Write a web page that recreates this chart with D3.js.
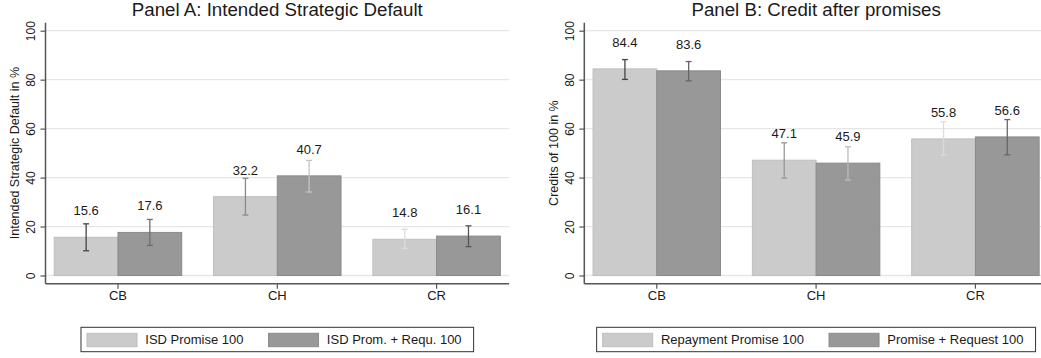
<!DOCTYPE html>
<html>
<head>
<meta charset="utf-8">
<script src="https://cdn.jsdelivr.net/npm/d3@7/dist/d3.min.js"></script>
<style>
    body { margin: 0; background: #fff; }
    text { font-family: Arial, "Liberation Sans", sans-serif; fill: #1a1a1a; }
</style>
</head>
<body>
<div id="chart"></div>
<script>
// data
var categories = ["CB", "CH", "CR"];
var yTicks = [0, 20, 40, 60, 80, 100];

var isdPromise   = [15.6, 32.2, 14.8];
var isdPromiseLo = [10.1, 24.7, 11.1];
var isdPromiseHi = [21.1, 39.7, 18.9];
var isdRequest   = [17.6, 40.7, 16.1];
var isdRequestLo = [12.3, 34.1, 11.8];
var isdRequestHi = [22.9, 47.0, 20.3];

var creditPromise   = [84.4, 47.1, 55.8];
var creditPromiseLo = [80.1, 39.8, 49.2];
var creditPromiseHi = [88.2, 54.2, 62.8];
var creditRequest   = [83.6, 45.9, 56.6];
var creditRequestLo = [79.5, 39.0, 49.3];
var creditRequestHi = [87.4, 52.6, 63.7];

var width = 1041, height = 358;

var svg = d3.select("#chart")
    .append("svg")
    .attr("width", width)
    .attr("height", height);

// shared vertical scale
var y = d3.scaleLinear()
    .domain([0, 100])
    .range([275.5, 30.7]);

var plotTop = 22.7, plotBottom = 283.7;
var fills = ["#cbcbcb", "#989898"];
var strokes = ["#bebebe", "#8a8a8a"];

function drawPanel(p) {
    var g = svg.append("g");

    var x = d3.scaleBand()
        .domain(categories)
        .range([p.left, p.left + 463.6])
        .paddingInner(0.2)
        .paddingOuter(0.055);

    var xSub = d3.scaleBand()
        .domain([0, 1])
        .range([0, x.bandwidth()]);

    var cx = (p.left + p.left + 463.6) / 2;

    // gridlines
    g.append("g")
        .selectAll("line")
        .data(yTicks)
        .enter().append("line")
        .attr("x1", p.left)
        .attr("x2", p.left + 463.6)
        .attr("y1", function (d) { return y(d); })
        .attr("y2", function (d) { return y(d); })
        .attr("stroke", "#e6e6e6")
        .attr("stroke-width", 1.3);

    // title
    g.append("text")
        .attr("x", cx)
        .attr("y", 15.5)
        .attr("text-anchor", "middle")
        .attr("font-size", "18.7px")
        .text(p.title);

    // bars
    var rows = [];
    p.series.forEach(function (s, si) {
        s.values.forEach(function (v, i) {
            rows.push({cat: categories[i], s: si, v: v, lo: s.lo[i], hi: s.hi[i], cap: p.capColors[si][i]});
        });
    });

    g.append("g")
        .selectAll("rect")
        .data(rows)
        .enter().append("rect")
        .attr("x", function (d) { return x(d.cat) + xSub(d.s); })
        .attr("y", function (d) { return y(d.v); })
        .attr("width", xSub.bandwidth())
        .attr("height", function (d) { return y(0) - y(d.v); })
        .attr("fill", function (d) { return fills[d.s]; })
        .attr("stroke", function (d) { return strokes[d.s]; })
        .attr("stroke-width", 1);

    // error bars
    var eb = g.append("g")
        .selectAll("g")
        .data(rows)
        .enter().append("g")
        .attr("stroke", function (d) { return d.cap; })
        .attr("stroke-width", 1.3)
        .attr("transform", function (d) {
            return "translate(" + (x(d.cat) + xSub(d.s) + xSub.bandwidth() / 2) + ",0)";
        });
    eb.append("line")
        .attr("y1", function (d) { return y(d.lo); })
        .attr("y2", function (d) { return y(d.hi); });
    eb.append("line")
        .attr("x1", -3).attr("x2", 3)
        .attr("y1", function (d) { return y(d.lo); })
        .attr("y2", function (d) { return y(d.lo); });
    eb.append("line")
        .attr("x1", -3).attr("x2", 3)
        .attr("y1", function (d) { return y(d.hi); })
        .attr("y2", function (d) { return y(d.hi); });

    // value labels
    g.append("g")
        .selectAll("text")
        .data(rows)
        .enter().append("text")
        .attr("x", function (d) { return x(d.cat) + xSub(d.s) + xSub.bandwidth() / 2; })
        .attr("y", function (d) { return y(d.v) - 22; })
        .attr("text-anchor", "middle")
        .attr("font-size", "13px")
        .text(function (d) { return d3.format(".1f")(d.v); });

    // y axis
    var yAxis = g.append("g")
        .attr("transform", "translate(" + p.left + ",0)")
        .call(d3.axisLeft(y).tickValues(yTicks).tickSize(5).tickSizeOuter(0));
    yAxis.select(".domain").remove();
    yAxis.selectAll(".tick line").attr("stroke", "#555").attr("stroke-width", 1.2);
    yAxis.selectAll(".tick text")
        .attr("x", null).attr("dy", null)
        .attr("transform", "translate(-10.5,0) rotate(-90)")
        .attr("text-anchor", "middle")
        .attr("font-size", "12px")
        .attr("font-family", null)
        .attr("fill", "#1a1a1a");

    g.append("line")
        .attr("x1", p.left).attr("x2", p.left)
        .attr("y1", plotTop).attr("y2", plotBottom)
        .attr("stroke", "#555").attr("stroke-width", 1.5);

    g.append("text")
        .attr("transform", "translate(" + (p.left - 26.5) + "," + ((y(0) + y(100)) / 2) + ") rotate(-90)")
        .attr("text-anchor", "middle")
        .attr("font-size", "12.5px")
        .text(p.yTitle);

    // x axis
    var xAxis = g.append("g")
        .attr("transform", "translate(0," + plotBottom + ")")
        .call(d3.axisBottom(x).tickSize(5).tickSizeOuter(0));
    xAxis.select(".domain").remove();
    xAxis.selectAll(".tick line").attr("stroke", "#555").attr("stroke-width", 1.2);
    xAxis.selectAll(".tick text")
        .attr("y", 16.8).attr("dy", null)
        .attr("font-size", "13px")
        .attr("font-family", null)
        .attr("fill", "#1a1a1a");
    g.append("line")
        .attr("x1", p.left).attr("x2", p.left + 463.6)
        .attr("y1", plotBottom).attr("y2", plotBottom)
        .attr("stroke", "#555").attr("stroke-width", 1.5);

    // legend
    var lg = g.append("g");
    var box = lg.append("rect")
        .attr("fill", "#fff")
        .attr("stroke", "#333")
        .attr("stroke-width", 1);
    var pos = 6;
    p.legend.forEach(function (label, i) {
        lg.append("rect")
            .attr("x", pos).attr("y", 6)
            .attr("width", 50).attr("height", 13.4)
            .attr("fill", fills[i])
            .attr("stroke", strokes[i]);
        var t = lg.append("text")
            .attr("x", pos + 58.3)
            .attr("y", 17)
            .attr("font-size", "13px")
            .text(label);
        pos += 58.3 + t.node().getComputedTextLength() + (i === 0 ? 25 : 12);
    });
    box.attr("width", pos).attr("height", 24.4);
    lg.attr("transform", "translate(" + (cx - pos / 2) + ",327.3)");
}

drawPanel({
    left: 45.5,
    title: "Panel A: Intended Strategic Default",
    yTitle: "Intended Strategic Default in %",
    series: [
        {values: isdPromise, lo: isdPromiseLo, hi: isdPromiseHi},
        {values: isdRequest, lo: isdRequestLo, hi: isdRequestHi}
    ],
    capColors: [["#444", "#8a8a8a", "#dcdcdc"], ["#6e6e6e", "#c4c4c4", "#555"]],
    legend: ["ISD Promise 100", "ISD Prom. + Requ. 100"]
});

drawPanel({
    left: 584.3,
    title: "Panel B: Credit after promises",
    yTitle: "Credits of 100 in %",
    series: [
        {values: creditPromise, lo: creditPromiseLo, hi: creditPromiseHi},
        {values: creditRequest, lo: creditRequestLo, hi: creditRequestHi}
    ],
    capColors: [["#444", "#999", "#dcdcdc"], ["#666", "#bbb", "#666"]],
    legend: ["Repayment Promise 100", "Promise + Request 100"]
});
</script>
</body>
</html>
